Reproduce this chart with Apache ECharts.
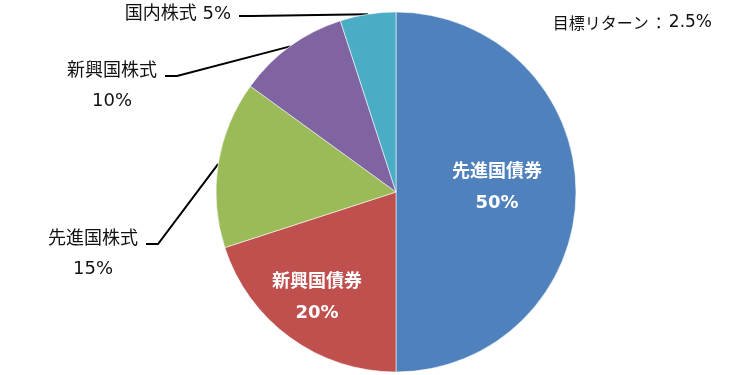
<!DOCTYPE html>
<html><head><meta charset="utf-8">
<script src="https://cdn.jsdelivr.net/npm/echarts@6/dist/echarts.min.js"></script>
<style>html,body{margin:0;padding:0;background:#fff}#c{width:747px;height:375px}</style>
</head><body><div id="c"></div>
<script>
// ---- data ----
const categories = ['先進国債券', '新興国債券', '先進国株式', '新興国株式', '国内株式'];
const values = [50, 20, 15, 10, 5];
const noteText = '目標リターン：2.5%';

// ---- style / layout (not data) ----
const colors = ['#4F81BD', '#C0504D', '#9BBB59', '#8064A2', '#4BACC6'];
const FONT = "'DejaVu Sans', 'Noto Sans CJK JP', sans-serif";
const JP_FONT = "'Noto Sans CJK JP', sans-serif";
const labelPlace = [
  { inside: true, x: 497, y: 188 },
  { inside: true, x: 317, y: 298 },
  { x: 93, y: 254, lineX: 146, lineY: 244, oneLine: false },
  { x: 112, y: 86, lineX: 165, lineY: 76, oneLine: false },
  { x: 178, y: 14, lineX: 239, lineY: 16, oneLine: true }
];

const chart = echarts.init(document.getElementById('c'), null, { renderer: 'canvas' });

const seriesData = categories.map((name, i) => {
  const p = labelPlace[i];
  const item = { name: name, value: values[i], itemStyle: { color: colors[i] } };
  if (p.inside) {
    item.label = {
      position: 'inside', color: '#fff', fontWeight: 'bold', fontSize: 18,
      lineHeight: 31, align: 'center'
    };
    item.labelLine = { show: false };
  } else {
    item.label = { position: 'outside', color: '#111', fontSize: 18, lineHeight: 30, align: 'center' };
    item.labelLine = { show: true };
  }
  return item;
});

// split the note into Japanese part, colon and number for font styling
const noteParts = noteText.split('：');
const titleRich = '{a|' + noteParts[0] + '}{c|：}{b|' + noteParts[1] + '}';

chart.setOption({
  animation: false,
  backgroundColor: '#fff',
  title: {
    text: titleRich, right: 35, top: 14, padding: 0,
    textStyle: {
      fontSize: 16, fontWeight: 'normal', color: '#111',
      rich: {
        a: { fontFamily: JP_FONT, fontSize: 16, color: '#111' },
        c: { fontFamily: JP_FONT, fontSize: 16, color: '#111', padding: [0, 2, 0, 2] },
        b: { fontFamily: FONT, fontSize: 17, color: '#111' }
      }
    }
  },
  series: [{
    type: 'pie',
    center: [396, 192],
    radius: [0, 180],
    startAngle: 90,
    clockwise: true,
    avoidLabelOverlap: false,
    itemStyle: { borderColor: 'rgba(255,255,255,0.55)', borderWidth: 1 },
    label: {
      show: true, position: 'outside', fontFamily: FONT,
      formatter: function (p) {
        const pl = labelPlace[p.dataIndex];
        return p.name + (pl.oneLine ? ' ' : '\n') + values[p.dataIndex] + '%';
      }
    },
    labelLine: { show: true, length: 10, length2: 10, smooth: false,
      lineStyle: { color: '#000', width: 2 } },
    labelLayout: function (params) {
      const pl = labelPlace[params.dataIndex];
      const res = { x: pl.x, y: pl.y, align: 'center', verticalAlign: 'middle' };
      if (!pl.inside && params.labelLinePoints) {
        const arc = params.labelLinePoints[0];
        res.labelLinePoints = [arc, [pl.lineX + 12, pl.lineY], [pl.lineX, pl.lineY]];
      }
      return res;
    },
    data: seriesData
  }]
});
</script></body></html>
